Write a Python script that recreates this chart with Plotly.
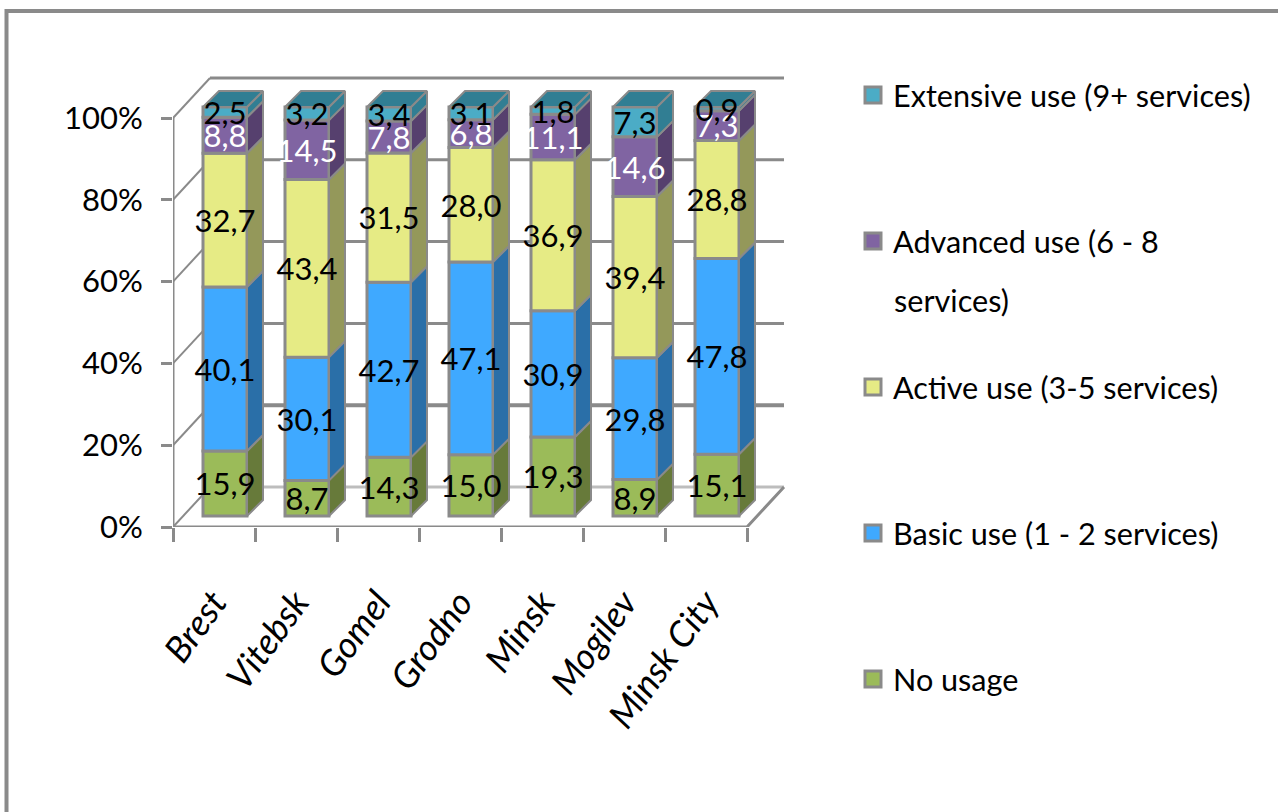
import numpy as np
import plotly.graph_objects as go

W, H = 1278, 812
regions = ["Brest", "Vitebsk", "Gomel", "Grodno", "Minsk", "Mogilev", "Minsk City"]
no_usage = [15.9, 8.7, 14.3, 15.0, 19.3, 8.9, 15.1]
basic_use = [40.1, 30.1, 42.7, 47.1, 30.9, 29.8, 47.8]
active_use = [32.7, 43.4, 31.5, 28.0, 36.9, 39.4, 28.8]
advanced_use = [8.8, 14.5, 7.8, 6.8, 11.1, 14.6, 7.3]
extensive_use = [2.5, 3.2, 3.4, 3.1, 1.8, 7.3, 0.9]
value_ticks = [0, 20, 40, 60, 80, 100]

series = [
    ("No usage", no_usage, "#9BBB59", "#677A3A", "black"),
    ("Basic use (1 - 2 services)", basic_use, "#3FA9FF", "#2A6FA8", "black"),
    ("Active use (3-5 services)", active_use, "#E6EB85", "#94985A", "black"),
    ("Advanced use (6 - 8", advanced_use, "#8064A2", "#56406E", "white"),
    ("Extensive use (9+ services)", extensive_use, "#4BACC6", "#317E93", "black"),
]
legend_y = [679, 533, 387, 241, 95]

FONT = "Lato, sans-serif"
GREY = "#8A8A8A"
BAND = 82.0
UNIT = 4.09
X0, X1, Y0, Y1 = 173, 790, 527, 60
xr = [-0.5, -0.5 + (X1 - X0) / BAND]
yr = [0, (Y0 - Y1) / UNIT]
bar_w = 44 / BAND
shift_x, shift_y = 11 / BAND, 11 / UNIT
depth_x, depth_y = 16 / BAND, 16 / UNIT
wall_x, wall_y = 37 / BAND, 40 / UNIT
xs = np.arange(len(regions), dtype=float)
totals = np.sum([s[1] for s in series], axis=0)

fig = go.Figure()
cum = np.zeros(len(regions))
for idx, (name, vals, col, dark, txt) in enumerate(series):
    share = np.array(vals) / totals * 100
    base = cum + shift_y
    fig.add_trace(go.Bar(x=xs + shift_x, y=share, base=base, width=bar_w,
                         marker=dict(color=col, line=dict(color=GREY, width=3)),
                         showlegend=False, name=name))
    sx, sy = [], []
    for x, b, s in zip(xs + shift_x + bar_w / 2, base, share):
        sx += [x, x + depth_x, x + depth_x, x, x, None]
        sy += [b, b + depth_y, b + s + depth_y, b + s, b, None]
    fig.add_trace(go.Scatter(x=sx, y=sy, mode="lines", fill="toself", fillcolor=dark,
                             line=dict(color=GREY, width=2), showlegend=False,
                             hoverinfo="skip", cliponaxis=False))
    if idx == len(series) - 1:
        tx, ty = [], []
        for x, t in zip(xs + shift_x - bar_w / 2, base + share):
            tx += [x, x + depth_x, x + depth_x + bar_w, x + bar_w, x, None]
            ty += [t, t + depth_y, t + depth_y, t, t, None]
        fig.add_trace(go.Scatter(x=tx, y=ty, mode="lines", fill="toself", fillcolor=dark,
                                 line=dict(color=GREY, width=2), showlegend=False,
                                 hoverinfo="skip", cliponaxis=False))
    cum = cum + share

cum = np.zeros(len(regions))
for name, vals, col, dark, txt in series:
    share = np.array(vals) / totals * 100
    fig.add_trace(go.Scatter(x=xs + shift_x, y=cum + share / 2 + shift_y - 1.0, mode="text",
                             text=[f"{v:.1f}".replace(".", ",") for v in vals],
                             textposition="middle center",
                             textfont=dict(family=FONT, size=31, color=txt),
                             showlegend=False, cliponaxis=False, hoverinfo="skip"))
    cum = cum + share

# Outer front edges of the box
fig.add_trace(go.Scatter(
    x=[xr[0], xr[0], None, xr[0], 6.5, 6.5 + wall_x],
    y=[100, 0, None, 0, 0, wall_y], mode="lines",
    line=dict(color=GREY, width=3), showlegend=False, hoverinfo="skip", cliponaxis=False))

# Legend entries, each placed on its own row
layout_legends = {}
for i, ((name, vals, col, dark, txt), ly) in enumerate(zip(series, legend_y)):
    key = "legend" if i == 0 else f"legend{i + 1}"
    fig.add_trace(go.Scatter(x=[None], y=[None], mode="markers", name=name, legend=key,
                             marker=dict(symbol="square", size=16, color=col,
                                         line=dict(color=GREY, width=3)),
                             showlegend=True))
    layout_legends[key] = dict(x=853 / W, y=1 - ly / H, xanchor="left", yanchor="middle",
                               bgcolor="rgba(0,0,0,0)", borderwidth=0, itemsizing="trace",
                               font=dict(family=FONT, size=30.6, color="black"))

# Carrier for the boundary tick marks
fig.add_trace(go.Scatter(x=[None], y=[None], xaxis="x2", showlegend=False, hoverinfo="skip"))

shapes = []
for v in value_ticks:
    w = 4 if v == 20 else 3
    shapes.append(dict(type="line", xref="x", yref="y", layer="below",
                       x0=xr[0] + wall_x, x1=6.5 + wall_x, y0=v + wall_y, y1=v + wall_y,
                       line=dict(color=GREY if v else "#BDBDBD", width=w)))
    shapes.append(dict(type="line", xref="x", yref="y", layer="below",
                       x0=xr[0], x1=xr[0] + wall_x, y0=v, y1=v + wall_y,
                       line=dict(color=GREY, width=2)))
shapes.append(dict(type="line", xref="paper", yref="paper", x0=6.5 / W, x1=6.5 / W,
                   y0=0, y1=1 - 9 / H, line=dict(color=GREY, width=4)))
shapes.append(dict(type="line", xref="paper", yref="paper", x0=5 / W, x1=1,
                   y0=1 - 11 / H, y1=1 - 11 / H, line=dict(color=GREY, width=4)))

fig.update_layout(
    width=W, height=H, margin=dict(l=0, r=0, t=0, b=0, autoexpand=False),
    paper_bgcolor="white", plot_bgcolor="rgba(0,0,0,0)",
    barmode="overlay", shapes=shapes, showlegend=True,
    annotations=[dict(text="services)", xref="paper", yref="paper", x=892 / W, y=1 - 300 / H,
                      xanchor="left", yanchor="middle", showarrow=False,
                      font=dict(family=FONT, size=30.6, color="black"))],
    xaxis=dict(domain=[X0 / W, X1 / W], range=xr, tickmode="array", tickvals=list(xs),
               ticktext=regions, tickangle=-54, ticks="", showgrid=False, zeroline=False,
               showline=False, ticklabelstandoff=46,
               tickfont=dict(family=FONT, size=36, color="black", style="italic")),
    xaxis2=dict(domain=[X0 / W, X1 / W], range=xr, overlaying="x", anchor="y", side="bottom",
                tickmode="array", tickvals=list(np.arange(8) - 0.5), ticks="outside", ticklen=14,
                tickwidth=3, tickcolor=GREY, showticklabels=False, showgrid=False,
                zeroline=False, showline=False),
    yaxis=dict(domain=[1 - Y0 / H, 1 - Y1 / H], range=yr, tickmode="array", tickvals=value_ticks,
               ticktext=[f"{v}%" for v in value_ticks], ticks="outside", ticklen=11, tickwidth=3,
               tickcolor=GREY, showgrid=False, zeroline=False, showline=False,
               ticklabelstandoff=12, tickfont=dict(family=FONT, size=31, color="black")),
    **layout_legends,
)
fig.write_html("out.html", config={"displayModeBar": False},
               post_script="document.body.style.margin='0';document.body.style.overflow='hidden';")
